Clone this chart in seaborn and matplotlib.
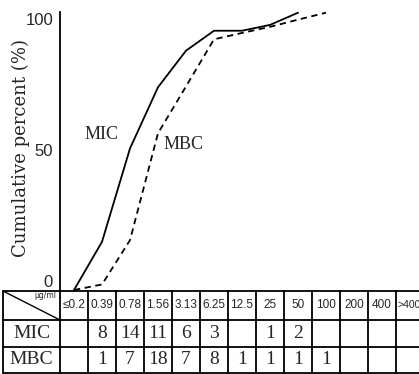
import matplotlib
matplotlib.use("Agg")
import matplotlib.pyplot as plt
import seaborn as sns
import pandas as pd

# ---- data ----
categories = ["≤0.2", "0.39", "0.78", "1.56", "3.13", "6.25", "12.5",
              "25", "50", "100", "200", "400", ">400"]
mic_counts = ["", "8", "14", "11", "6", "3", "", "1", "2", "", "", "", ""]
mbc_counts = ["", "1", "7", "18", "7", "8", "1", "1", "1", "1", "", "", ""]
# cumulative percent
mic_cats = ["≤0.2", "0.39", "0.78", "1.56", "3.13", "6.25", "12.5", "25", "50"]
mic_cum = [0, 17.4, 51.1, 73.2, 86.4, 93.6, 93.6, 95.7, 100.1]
mbc_cats = ["≤0.2", "0.39", "0.78", "1.56", "3.13", "6.25", "12.5", "25", "50", "100"]
mbc_cum = [0, 2.0, 18.0, 56.6, 73.5, 90.5, 92.8, 95.0, 97.6, 100.1]
y_ticks = [0, 50, 100]
y_label = "Cumulative percent (%)"
unit_label = "μg/ml"

sns.set_style("white")

W, H = 419, 374
fig = plt.figure(figsize=(W / 100, H / 100), dpi=100)

def fx(px):
    return px / W

def fy(py):
    return 1 - py / H

col_w = 28.0
x0_px = 74.0  # centre of first column

def px_to_idx(px):
    return (px - x0_px) / col_w

# main axes
ax = fig.add_axes([fx(60), fy(291), 1 - fx(60), fy(12) - fy(291)])
mic_df = pd.DataFrame({"pos": [categories.index(c) for c in mic_cats], "pct": mic_cum})
mbc_df = pd.DataFrame({"pos": [categories.index(c) for c in mbc_cats], "pct": mbc_cum})
sns.lineplot(data=mic_df, x="pos", y="pct", ax=ax, color="black", lw=1.3,
             sort=False, clip_on=False)
sns.lineplot(data=mbc_df, x="pos", y="pct", ax=ax, color="black", lw=1.3,
             linestyle=(0, (3.5, 2.5)), sort=False, clip_on=False)
ax.set_xlim(px_to_idx(60), px_to_idx(419))
ax.set_ylim(-0.36, 100.36)
for s in ["top", "right", "bottom"]:
    ax.spines[s].set_visible(False)
ax.spines["left"].set_linewidth(1.3)
ax.spines["left"].set_color("black")
ax.set_xticks([])
ax.set_yticks(y_ticks)
ax.set_yticklabels([str(t) for t in y_ticks], family="Liberation Sans", fontsize=12)
ax.tick_params(axis="y", length=0, pad=5)
for lab, va in zip(ax.get_yticklabels(), ["bottom", "center", "top"]):
    lab.set_va(va)
ax.set_xlabel("")
ax.set_ylabel("")
fig.text(fx(21), fy(148), y_label, rotation=90, ha="center", va="center",
         family="DejaVu Serif", fontsize=13)

ax.text(px_to_idx(102), 56.0, "MIC", family="Liberation Serif", fontsize=13,
        ha="center", va="center")
ax.text(px_to_idx(184), 52.5, "MBC", family="Liberation Serif", fontsize=13,
        ha="center", va="center")

# table axes
tx = fig.add_axes([fx(3), fy(373), 1 - fx(3), fy(291) - fy(373)])
tx.set_xlim(px_to_idx(3), px_to_idx(419))
row_edges = [0, 29, 55.5, 82]
tx.set_ylim(82, 0)
tx.axis("off")
left = px_to_idx(3)
right = px_to_idx(419)
lw = 1.3
for y in row_edges:
    tx.plot([left, right], [y, y], color="black", lw=lw, clip_on=False)
vlines = [left, -0.5] + [i + 0.5 for i in range(len(categories) - 1)]
for v in vlines:
    tx.plot([v, v], [0, 82], color="black", lw=lw, clip_on=False)
# diagonal in header cell
tx.plot([left, -0.5], [0, 29], color="black", lw=1.0)
tx.text(px_to_idx(45), 5, unit_label, fontsize=5.5, ha="center", va="center",
        family="DejaVu Sans")
for i, c in enumerate(categories):
    if i == len(categories) - 1:
        tx.text(i - 0.46, 14.5, c, ha="left", va="center",
                family="Liberation Sans", fontsize=7.5)
    else:
        tx.text(i, 14.5, c, ha="center", va="center",
                family="Liberation Sans", fontsize=8.5)
row_centres = [42.25, 68.75]
for r, (name, vals) in enumerate([("MIC", mic_counts), ("MBC", mbc_counts)]):
    tx.text((left - 0.5) / 2, row_centres[r], name, ha="center", va="center",
            family="Liberation Serif", fontsize=14)
    for i, v in enumerate(vals):
        if v:
            tx.text(i, row_centres[r], v, ha="center", va="center",
                    family="Liberation Serif", fontsize=14)

fig.savefig("out.png", dpi=100)
